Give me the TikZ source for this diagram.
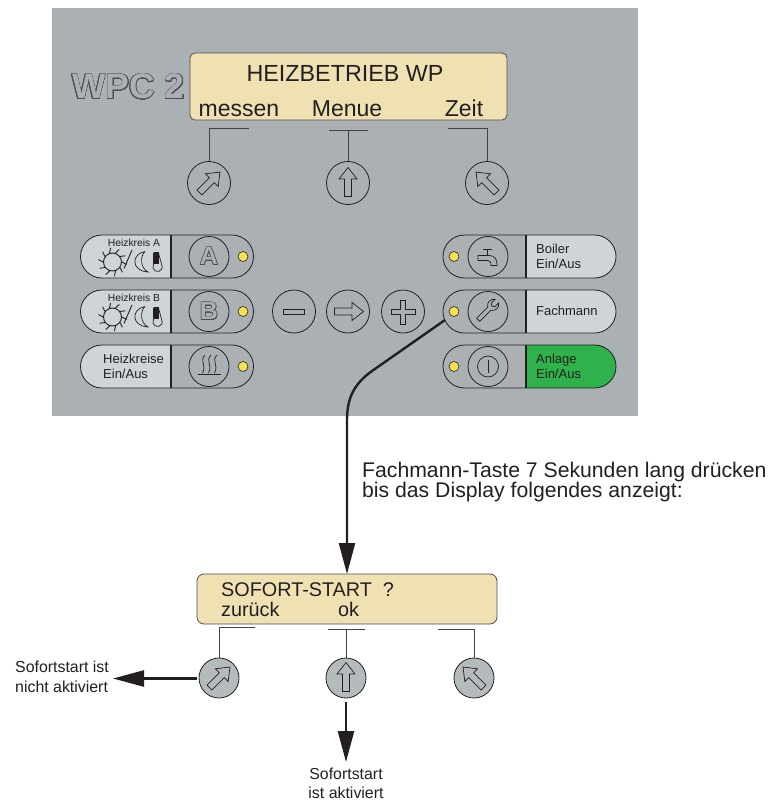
\documentclass[tikz,border=0pt]{standalone}
\usepackage{fontspec}
\setmainfont{Liberation Sans}
\usepackage{contour}
\usetikzlibrary{arrows.meta,shapes.misc}
\definecolor{panelgray}{HTML}{ABB0B4}
\definecolor{lcdyellow}{HTML}{F0E1B3}
\definecolor{keylight}{HTML}{CFD4D7}
\definecolor{keygreen}{HTML}{2FB24C}
\definecolor{ledyellow}{HTML}{FAE150}
\definecolor{softgray}{HTML}{B5BABC}
\definecolor{ink}{HTML}{231F20}
\tikzstyle{lcd} = [draw=ink!80, fill=lcdyellow, rectangle, rounded corners=5pt, inner sep=0pt, line width=0.8pt]
\tikzstyle{softkey} = [draw=ink, circle, inner sep=0pt, minimum size=43pt, line width=0.8pt]
\tikzstyle{softkeylow} = [softkey, fill=softgray, minimum size=40pt]
\tikzstyle{key} = [softkey, minimum size=40pt]
\tikzstyle{led} = [draw=ink, fill=ledyellow, circle, inner sep=0pt, minimum size=10pt, line width=0.6pt]
\tikzstyle{pill} = [draw=ink, rounded rectangle, inner sep=0pt, minimum width=173pt, minimum height=43pt, line width=0.8pt]
\tikzstyle{glyph} = [draw=ink, line width=0.7pt, line join=miter]
\tikzstyle{lead} = [draw=ink!85, line width=1pt]
\tikzstyle{flow} = [draw=ink, line width=2.4pt, -{Triangle[length=31pt,width=16pt]}]
\tikzstyle{lcdtxt} = [text=ink, inner sep=0pt, anchor=base]
\tikzstyle{keytxt} = [text=ink, inner sep=0pt, anchor=west, align=left, font=\fontsize{13}{15}\selectfont]
\tikzstyle{smalltxt} = [text=ink, inner sep=0pt, font=\fontsize{10.3}{12}\selectfont]
\tikzstyle{notetxt} = [text=ink, inner sep=0pt, align=left, font=\fontsize{15.9}{20.5}\selectfont]
\newcommand{\outl}[1]{\contourlength{0.55pt}\contour{ink!80}{\textcolor{panelgray}{#1}}}
\newcommand{\blockarrow}[3]{\draw[glyph,shift={(#1,#2)},rotate=#3] (0,-15.5) -- (9,-4) -- (3.5,-4) -- (3.5,13.5) -- (-3.5,13.5) -- (-3.5,-4) -- (-9,-4) -- cycle;}
\newcommand{\climate}[1]{%
  \begin{scope}[yshift=-#1pt]
    \draw[glyph,line width=0.9pt] (112.5,262) circle (9);
    \foreach \a in {0,36,...,324}
      \draw[glyph,line width=0.9pt,shift={(112.5,262)},rotate=\a] (9.5,0) .. controls (11.5,0.3) .. (14,2.5);
    \draw[glyph,line width=0.9pt] (124,268.5) -- (132,250);
    \draw[glyph] (145,251.5) .. controls (131,254) and (131,271) .. (148,272) .. controls (140,268) and (140,256) .. (145,251.5);
    \draw[glyph,fill=keylight] (153.5,253) -- (153.5,264.5) arc (-210:30:4.7 and -4.7) -- (158.5,253) -- cycle;
    \fill[ink] (153.5,252) rectangle (158.5,264);
  \end{scope}}

\begin{document}
\begin{tikzpicture}[x=1pt,y=-1pt]
\useasboundingbox (0,0) rectangle (772,803);
\fill[panelgray] (52,8) rectangle (638,416);

\node[text=ink, inner sep=0pt, font=\fontsize{35.5}{36}\selectfont\bfseries] (brand) at (128.5,87) {\outl{WPC 2}};

% display oben
\node[lcd, minimum width=317pt, minimum height=67pt] (lcdTop) at (348.5,86.5) {};
\node[lcdtxt, font=\fontsize{23.3}{24}\selectfont] (lcdTitle) at (345,81) {HEIZBETRIEB WP};
\node[lcdtxt, font=\fontsize{23}{23}\selectfont] (lcdMessen) at (239,116) {messen};
\node[lcdtxt, font=\fontsize{23}{23}\selectfont] (lcdMenue) at (347,116) {Menue};
\node[lcdtxt, font=\fontsize{23}{23}\selectfont] (lcdZeit) at (464,116) {Zeit};

\node[softkey] (btnMessen) at (209,183) {};
\node[softkey] (btnMenue) at (348,183) {};
\node[softkey] (btnZeit) at (487,183) {};
\blockarrow{209}{183}{-45}
\blockarrow{348}{183}{0}
\blockarrow{487}{183}{45}
\coordinate (leadMessen) at (249,128);
\coordinate (menueL) at (329,130);
\coordinate (menueR) at (368,130);
\coordinate (leadZeit) at (448,128);
\draw[lead] (btnMessen.north) |- (leadMessen);
\draw[lead] (menueL) -- (menueR);
\draw[lead] (btnMenue.north) -- (btnMenue.north |- menueL);
\draw[lead] (btnZeit.north) |- (leadZeit);

% tasten links
\foreach \y/\name in {256.5/A,311.5/B,366.5/C}{
  \fill[keylight] (171,\y-21.5) [rounded corners=21pt] -- (81,\y-21.5) -- (81,\y+21.5) [sharp corners] -- (171,\y+21.5) -- cycle;
  \node[pill] (pill\name) at (167,\y) {};
  \draw[ink, line width=1.4pt] (171,\y-21.5) -- (171,\y+21.5);
  \node[key] (key\name) at (209,\y) {};
  \node[led] (led\name) at (243,\y) {};
}
\node[text=ink, inner sep=0pt, font=\fontsize{25}{25}\selectfont\bfseries] (letterA) at (keyA) {\outl{A}};
\node[text=ink, inner sep=0pt, font=\fontsize{25}{25}\selectfont\bfseries] (letterB) at (keyB) {\outl{B}};
\node[smalltxt] (txtA) at (134,243) {Heizkreis A};
\node[smalltxt] (txtB) at (134,298) {Heizkreis B};
\climate{0}
\climate{55}
\node[keytxt] (txtC) at (103,366) {Heizkreise\\Ein/Aus};
\foreach \x in {203,209,215}
  \draw[glyph] (\x+2,355) .. controls (\x-4,361) and (\x+4,365) .. (\x-0.5,373);
\draw[glyph] (197.5,374) -- (220.5,374);

% mitte
\node[softkey] (btnMinus) at (294,311.5) {};
\node[softkey] (btnRight) at (348,311.5) {};
\node[softkey] (btnPlus) at (403,311.5) {};
\draw[glyph] (283.5,309) rectangle (304,314);
\blockarrow{348}{311.5}{-90}
\draw[glyph] (400.5,300) -- (405.5,300) -- (405.5,309) -- (415,309) -- (415,314) -- (405.5,314) -- (405.5,324) -- (400.5,324) -- (400.5,314) -- (391,314) -- (391,309) -- (400.5,309) -- cycle;

% tasten rechts
\foreach \y/\name/\col in {256.5/D/keylight,311.5/E/keylight,366.5/F/keygreen}{
  \fill[\col] (526,\y-21.5) [rounded corners=21pt] -- (616,\y-21.5) -- (616,\y+21.5) [sharp corners] -- (526,\y+21.5) -- cycle;
  \node[pill] (pill\name) at (529.5,\y) {};
  \draw[ink, line width=1.4pt] (526,\y-21.5) -- (526,\y+21.5);
  \node[key] (key\name) at (488,\y) {};
  \node[led] (led\name) at (454,\y) {};
}
\node[keytxt] (txtD) at (536,256) {Boiler\\Ein/Aus};
\node[keytxt] (txtE) at (536,311) {Fachmann};
\node[keytxt] (txtF) at (536,366) {Anlage\\Ein/Aus};
% wasserhahn
\draw[glyph] (478,255.5) -- (489,255.5) .. controls (495,255.5) and (497,259) .. (497,265.5) -- (491,265.5) .. controls (491,262) and (490,260.5) .. (488,260.5) -- (478,260.5) -- cycle;
\draw[glyph] (483,249.5) -- (492,249.5) (487.5,249.5) -- (487.5,255.5);
% schluessel
\draw[glyph,shift={(487.5,310.5)},rotate=-45,scale=0.88] (-2.5,15) -- (-2.5,-3) .. controls (-7,-5) and (-7.5,-12) .. (-3,-15) -- (-3,-9) -- (0,-7) -- (3,-9) -- (3,-15) .. controls (7.5,-12) and (7,-5) .. (2.5,-3) -- (2.5,15) -- cycle;
% ein/aus
\draw[glyph] (488,366.5) circle (10.5);
\draw[glyph] (488,360) -- (488,373);

% display unten
\node[lcd, minimum width=300pt, minimum height=50pt, rounded corners=7pt] (lcdLow) at (347,599) {};
\node[lcdtxt, anchor=base west, font=\fontsize{19.8}{20}\selectfont] (lcdSofort) at (221,596) {SOFORT-START\ \ ?};
\node[lcdtxt, anchor=base west, font=\fontsize{19.8}{20}\selectfont] (lcdZurueck) at (221,616) {zurück};
\node[lcdtxt, anchor=base west, font=\fontsize{19.8}{20}\selectfont] (lcdOk) at (338,616) {ok};

\node[softkeylow] (lowLeft) at (219,678) {};
\node[softkeylow] (lowMid) at (346,678) {};
\node[softkeylow] (lowRight) at (474,678) {};
\blockarrow{219}{678}{-45}
\blockarrow{346}{678}{0}
\blockarrow{474}{678}{45}
\coordinate (lowLeadL) at (255,627.5);
\coordinate (lowMidL) at (328,629.5);
\coordinate (lowMidR) at (365,629.5);
\coordinate (lowLeadR) at (438,629.5);
\draw[lead] (lowLeft.north) |- (lowLeadL);
\draw[lead] (lowMidL) -- (lowMidR);
\draw[lead] (lowMid.north) -- (lowMid.north |- lowMidL);
\draw[lead] (lowRight.north) |- (lowLeadR);

% pfeile
\coordinate (wrenchEnd) at (445,320);
\coordinate (lcdEntry) at (347,574);
\draw[flow] (wrenchEnd) -- (372,371) .. controls (354,384) and (347,398) .. (347,420) -- (lcdEntry);
\coordinate (startLeft) at (197,678.5);
\coordinate (endLeft) at (113,678.5);
\coordinate (startDown) at (346,702);
\coordinate (endDown) at (346,762);
\draw[flow] (startLeft) -- (endLeft);
\draw[flow] (startDown) -- (endDown);

\node[notetxt, anchor=north west, font=\fontsize{21.2}{20}\selectfont] (note) at (362,461.5) {Fachmann-Taste 7 Sekunden lang drücken\\bis das Display folgendes anzeigt:};
\node[notetxt, anchor=north west] (resLeft) at (15,660.5) {Sofortstart ist\\nicht aktiviert};
\node[notetxt, align=center, anchor=north, font=\fontsize{15.9}{19}\selectfont] (resDown) at (346,768) {Sofortstart\\ist aktiviert};
\end{tikzpicture}
\end{document}
